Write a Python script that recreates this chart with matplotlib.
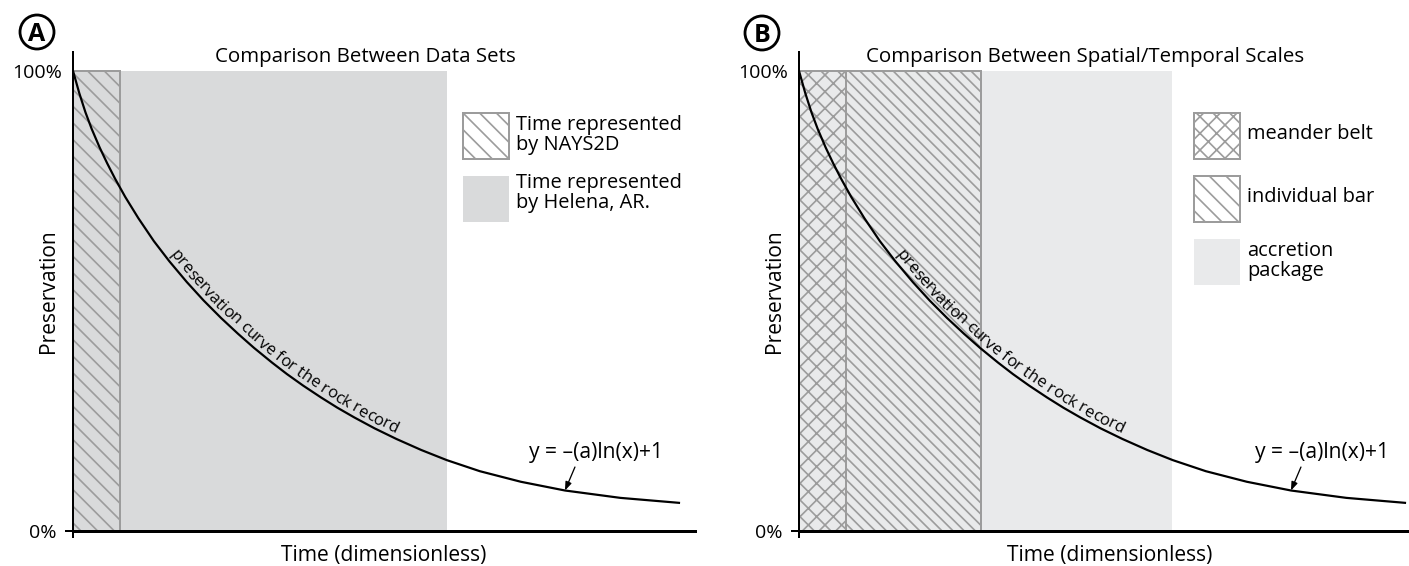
import numpy as np
import matplotlib
matplotlib.use('Agg')
import matplotlib.pyplot as plt
from matplotlib.patches import Rectangle, Circle
from matplotlib.transforms import IdentityTransform
from matplotlib.font_manager import FontProperties, findfont, get_font

plt.rcParams['font.family'] = ['Open Sans', 'DejaVu Sans']
plt.rcParams['hatch.linewidth'] = 0.6

# preservation curve (time 0..100, preservation in %)
curve_t = [0, 1, 2, 3, 4.3, 5.5, 6.75, 8.4, 10.5, 13, 15.5, 18.3, 21, 23.8, 26.5, 29.1,
           32, 34.4, 37, 39.9, 42.5, 45.2, 48.5, 52, 56, 60.1, 65.4, 72, 79.1, 88, 97.6]
curve_p = [100, 95.2, 91.0, 87.4, 83.3, 79.9, 76.6, 72.6, 68.0, 63.0, 58.6, 54.1, 50.1,
           46.3, 42.9, 39.8, 36.6, 34.1, 31.6, 29.0, 26.8, 24.7, 22.3, 20.0, 17.6, 15.4,
           13.0, 10.7, 8.8, 7.2, 6.1]

# time spans shaded in each panel
spans_a = [(0, 7.6), (7.6, 60.1)]
labels_a = ['Time represented\nby NAYS2D', 'Time represented\nby Helena, AR.']
spans_b = [(0, 7.6), (7.6, 29.3), (0, 60.0)]
labels_b = ['meander belt', 'individual bar', 'accretion\npackage']

titles = ['Comparison Between Data Sets', 'Comparison Between Spatial/Temporal Scales']
panel_letters = ['A', 'B']
curve_text = 'preservation curve for the rock record'
equation = 'y = \u2013(a)ln(x)+1'

W, H, DPI = 1409, 566, 200
GRAY = '#d9dadb'
LIGHT = '#e9eaeb'
EDGE = '#9c9c9c'
DIAG = '\\\\\\\\'          # ~16 px spacing
DIAG_FINE = '\\\\\\\\\\\\'  # ~11 px spacing
CROSS = 'xxxx'


def px(v):
    return v * 72 / DPI


fig = plt.figure(figsize=(W / DPI, H / DPI), dpi=DPI)
axA = fig.add_axes([73 / W, 35 / H, 622 / W, 479 / H])
axB = fig.add_axes([799 / W, 35 / H, 622 / W, 479 / H])


def setup(ax, title, title_x):
    ax.set_xlim(0, 100)
    ax.set_ylim(0, 104.1)
    ax.patch.set_alpha(0)
    for s in ['top', 'right']:
        ax.spines[s].set_visible(False)
    ax.spines['left'].set_linewidth(px(2))
    ax.spines['bottom'].set_linewidth(px(3))
    ax.set_xticks([0], [''])
    ax.set_yticks([0], ['0%'])
    ax.set_yticks([100], ['100%'], minor=True)
    ax.tick_params(axis='x', length=px(7), width=px(2))
    ax.tick_params(axis='y', which='major', length=px(8), width=px(2), pad=px(8), labelsize=px(19.5))
    ax.tick_params(axis='y', which='minor', length=0, pad=px(11), labelsize=px(19.5))
    ax.set_xlabel('Time (dimensionless)', fontsize=px(21))
    ax.xaxis.set_label_coords(0.5, -0.03)
    ax.set_ylabel('Preservation', fontsize=px(21))
    ax.yaxis.set_label_coords(-0.0225, 0.5)
    ax.text(title_x, 0.989, title, transform=ax.transAxes, ha='left', va='center', fontsize=px(20.5))
    ax.plot(curve_t, curve_p, color='black', lw=px(2.2), zorder=4, solid_capstyle='butt')
    ax.text(84.1, 17.0, equation, ha='center', va='center', fontsize=px(21))
    ax.annotate('', xy=(79.1, 8.8), xytext=(80.7, 13.9),
                arrowprops=dict(arrowstyle='-|>,head_length=0.35,head_width=0.13', color='black',
                                lw=px(1.3), shrinkA=0, shrinkB=0, mutation_scale=px(20)))


def curve_label(ax, text, start_t, size_px, offset_px):
    pts = ax.transData.transform(np.column_stack([curve_t, curve_p]))
    seg = np.hypot(np.diff(pts[:, 0]), np.diff(pts[:, 1]))
    s = np.concatenate([[0], np.cumsum(seg)])
    pos = np.interp(start_t, curve_t, s)
    fp = FontProperties(family='Open Sans', size=px(size_px))
    font = get_font(findfont(fp))
    font.set_size(px(size_px), DPI)
    inv = ax.transData.inverted()
    for c in text:
        adv = font.load_char(ord(c)).linearHoriAdvance / 65536
        sc = pos + adv / 2
        x = np.interp(sc, s, pts[:, 0])
        y = np.interp(sc, s, pts[:, 1])
        xa, ya = np.interp(sc - 10, s, pts[:, 0]), np.interp(sc - 10, s, pts[:, 1])
        xb, yb = np.interp(sc + 10, s, pts[:, 0]), np.interp(sc + 10, s, pts[:, 1])
        ang = np.degrees(np.arctan2(yb - ya, xb - xa))
        n = np.array([-(yb - ya), xb - xa])
        n = n / np.hypot(*n)
        dx, dy = inv.transform((x + n[0] * offset_px, y + n[1] * offset_px))
        ax.text(dx, dy, c, rotation=ang, rotation_mode='anchor', ha='center', va='baseline',
                fontproperties=fp, zorder=5)
        pos += adv


def fig_rect(x, y_top, fc, hatch=None, ec='none'):
    r = Rectangle((x, H - y_top - 46), 46, 46, transform=IdentityTransform(),
                  facecolor=fc, edgecolor=ec, hatch=hatch, lw=px(2))
    fig.add_artist(r)


def fig_label(x, y_center, text):
    fig.text(x / W, 1 - y_center / H, text, ha='left', va='center', fontsize=px(20), linespacing=1.05)


def panel_letter(x, y, letter):
    fig.add_artist(Circle((x, H - y), 17, transform=IdentityTransform(), fill=False,
                          edgecolor='black', lw=px(2.8)))
    fig.text(x / W, 1 - (y + 9) / H, letter, ha='center', va='baseline',
             fontsize=px(25), fontweight='bold')


# panel A
setup(axA, titles[0], 0.228)
axA.add_patch(Rectangle((spans_a[1][0], 0), spans_a[1][1] - spans_a[1][0], 100,
                        facecolor=GRAY, edgecolor='none', zorder=1))
axA.add_patch(Rectangle((spans_a[0][0], 0), spans_a[0][1] - spans_a[0][0], 100,
                        facecolor=GRAY, edgecolor=EDGE, hatch=DIAG, lw=px(2), zorder=2))
curve_label(axA, curve_text, 15.0, 16.5, 4.5)
fig_rect(463, 113, 'white', DIAG, EDGE)
fig_label(516, 135, labels_a[0])
fig_rect(463, 176, GRAY)
fig_label(516, 193, labels_a[1])
panel_letter(37, 32, panel_letters[0])

# panel B
setup(axB, titles[1], 0.108)
axB.add_patch(Rectangle((spans_b[2][0], 0), spans_b[2][1] - spans_b[2][0], 100,
                        facecolor=LIGHT, edgecolor='none', zorder=1))
axB.add_patch(Rectangle((spans_b[0][0], 0), spans_b[0][1] - spans_b[0][0], 100,
                        facecolor='none', edgecolor=EDGE, hatch=CROSS, lw=px(2), zorder=2))
axB.add_patch(Rectangle((spans_b[1][0], 0), spans_b[1][1] - spans_b[1][0], 100,
                        facecolor='none', edgecolor=EDGE, hatch=DIAG_FINE, lw=px(2), zorder=2))
curve_label(axB, curve_text, 15.0, 16.5, 4.5)
fig_rect(1194, 113, 'white', CROSS, EDGE)
fig_label(1247, 134, labels_b[0])
fig_rect(1194, 176, 'white', DIAG, EDGE)
fig_label(1247, 197, labels_b[1])
fig_rect(1194, 239, LIGHT)
fig_label(1247, 261, labels_b[2])
panel_letter(762, 33, panel_letters[1])

fig.savefig('out.png', dpi=DPI)
